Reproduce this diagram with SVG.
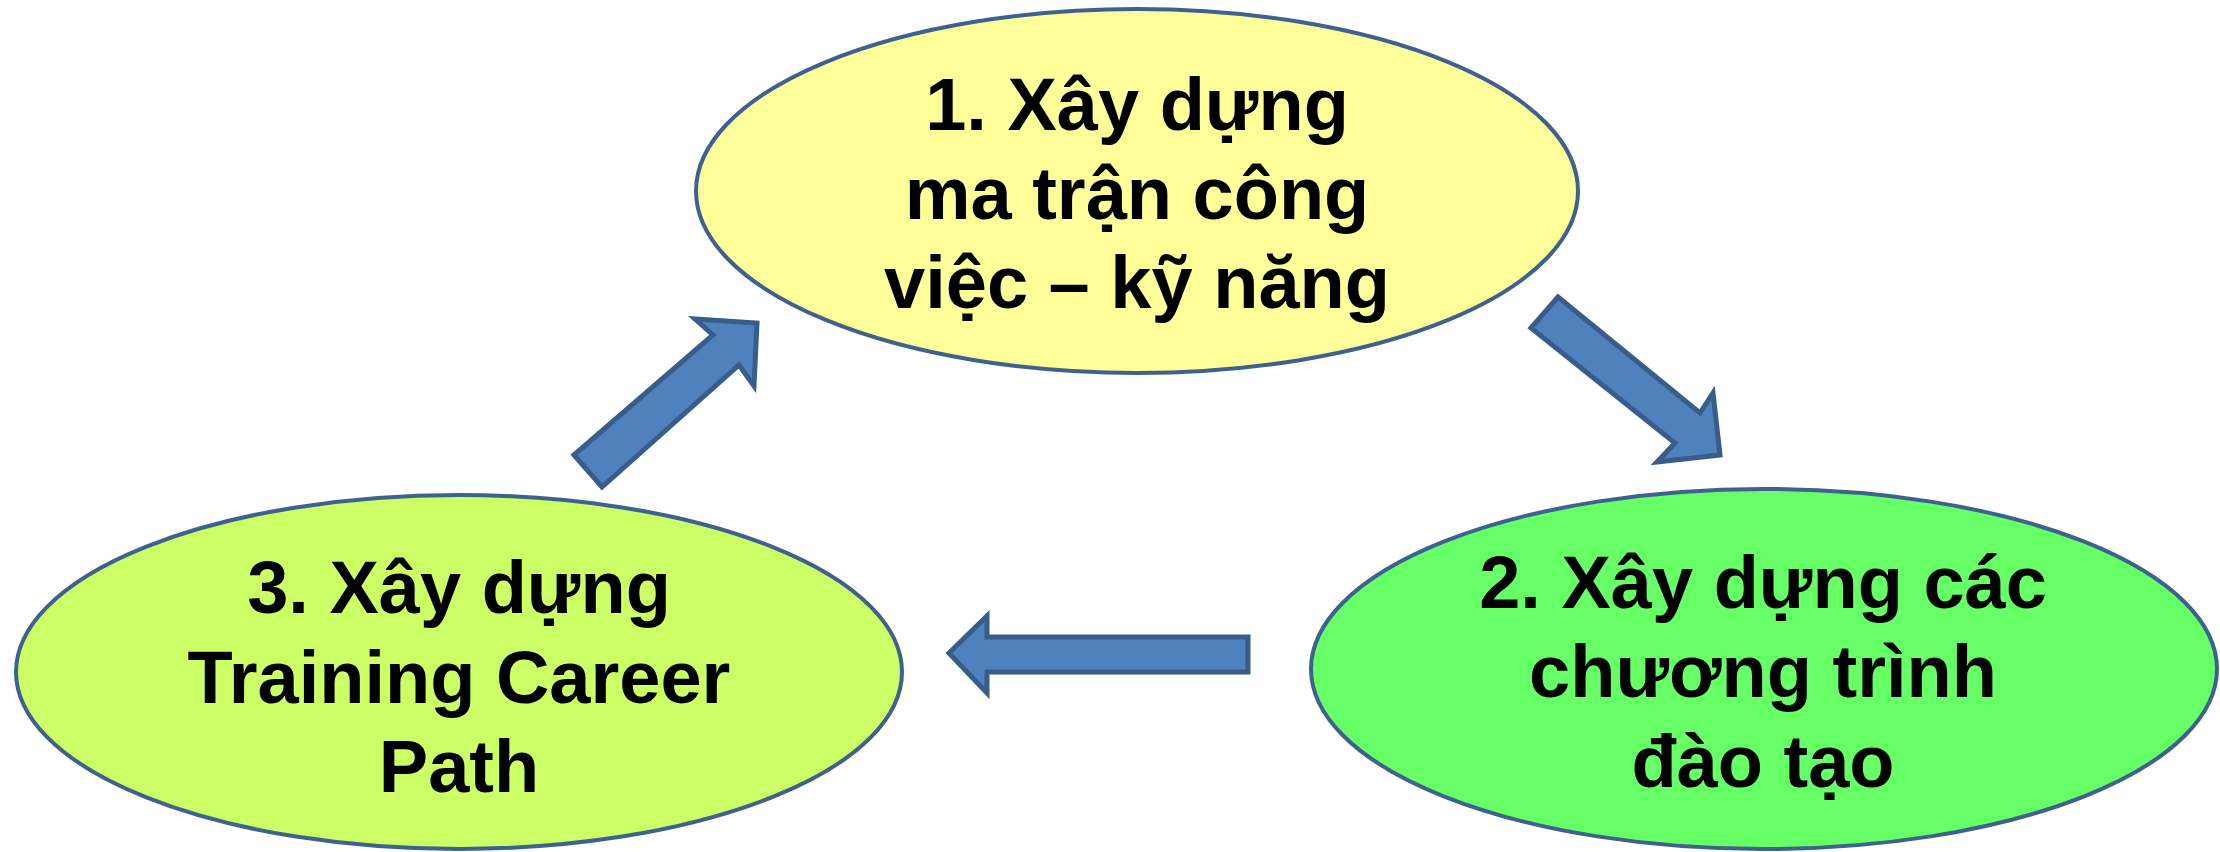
<svg xmlns="http://www.w3.org/2000/svg" width="2220" height="852" viewBox="0 0 2220 852">
<style>
.node{stroke:#3e6190;stroke-width:4}
.lbl{font-family:"Liberation Sans",Arial,sans-serif;font-weight:bold;font-size:74px;fill:#000;text-anchor:middle}
.arr{fill:#4f81bd;stroke:#385d8a;stroke-width:5;stroke-linejoin:miter}
</style>
<rect width="2220" height="852" fill="#fff"/>
<g id="node1">
<ellipse class="node" cx="1137" cy="191" rx="441" ry="182" fill="#ffff99"/>
<text class="lbl" x="1137" y="130">1. Xây dựng</text>
<text class="lbl" x="1137" y="219">ma trận công</text>
<text class="lbl" x="1137" y="308">việc – kỹ năng</text>
</g>
<g id="node2">
<ellipse class="node" cx="1764" cy="669" rx="453" ry="180" fill="#66ff66"/>
<text class="lbl" x="1763" y="608">2. Xây dựng các</text>
<text class="lbl" x="1763" y="697">chương trình</text>
<text class="lbl" x="1763" y="787">đào tạo</text>
</g>
<g id="node3">
<ellipse class="node" cx="459" cy="672" rx="443" ry="177" fill="#ccff66"/>
<text class="lbl" x="459" y="613">3. Xây dựng</text>
<text class="lbl" x="459" y="703">Training Career</text>
<text class="lbl" x="459" y="792">Path</text>
</g>
<g id="connectors">
<polygon class="arr" points="1558,297 1700,413 1713,393 1720,455 1657,462 1675,443 1531,328"/>
<polygon class="arr" points="949,653 987,616 987,637 1248,637 1248,672 987,672 987,693"/>
<polygon class="arr" points="574,455 713,335 695,319 757,323 754,386 739,365 602,487"/>
</g>
</svg>
